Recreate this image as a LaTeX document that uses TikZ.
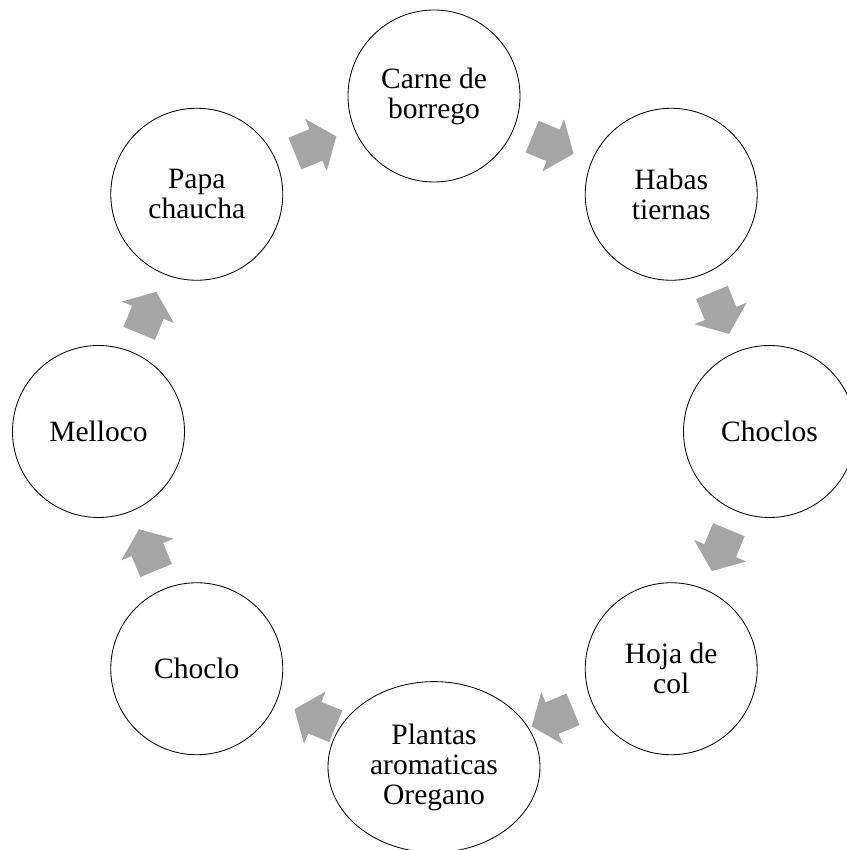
\documentclass[tikz,border=0pt]{standalone}
\usepackage{fontspec}
\setmainfont{Liberation Serif}
\usetikzlibrary{shapes,arrows,calc}
\definecolor{arrowgray}{RGB}{165,165,165}
\tikzstyle{stage}=[circle, draw, line width=0.6pt, minimum size=4.3cm, inner sep=0pt, align=center, font=\fontsize{21}{21.3}\selectfont]
\tikzstyle{blockarrow}=[single arrow, fill=arrowgray, draw=none, anchor=tail, minimum height=1.12cm, inner xsep=0pt, inner ysep=0.42cm, single arrow head extend=0.28cm, single arrow tip angle=104]

\begin{document}
\begin{tikzpicture}

\useasboundingbox (-10.85,-10.4625) rectangle (10.3,10.7875);

\node (carne) [stage] at (90:8.3875) {Carne de\\borrego};
\node (habas) [stage] at (45:8.3875) {Habas\\tiernas};
\node (choclos) [stage] at (0:8.3875) {Choclos};
\node (hoja) [stage] at (-45:8.3875) {Hoja de\\col};
\node (plantas) [stage, ellipse, minimum width=5.3cm, minimum height=4.27cm] at (-90:8.3875) {Plantas\\aromaticas\\Oregano};
\node (choclo) [stage] at (-135:8.3875) {Choclo};
\node (melloco) [stage] at (180:8.3875) {Melloco};
\node (papa) [stage] at (135:8.3875) {Papa\\chaucha};

\node (papacarne) [blockarrow, rotate=22.5] at ($(papa)!0.5!(carne)!0.56cm!(papa)$) {};
\node (carnehabas) [blockarrow, rotate=-22.5] at ($(carne)!0.5!(habas)!0.56cm!(carne)$) {};
\node (habaschoclos) [blockarrow, rotate=-67.5] at ($(habas)!0.5!(choclos)!0.56cm!(habas)$) {};
\node (chocloshoja) [blockarrow, rotate=-112.5] at ($(choclos)!0.5!(hoja)!0.56cm!(choclos)$) {};
\node (hojaplantas) [blockarrow, rotate=-157.5] at ($(hoja)!0.5!(plantas)!0.56cm!(hoja)$) {};
\node (plantaschoclo) [blockarrow, rotate=157.5] at ($(plantas)!0.5!(choclo)!0.56cm!(plantas)$) {};
\node (choclomelloco) [blockarrow, rotate=112.5] at ($(choclo)!0.5!(melloco)!0.56cm!(choclo)$) {};
\node (mellocopapa) [blockarrow, rotate=67.5] at ($(melloco)!0.5!(papa)!0.56cm!(melloco)$) {};

\end{tikzpicture}
\end{document}
